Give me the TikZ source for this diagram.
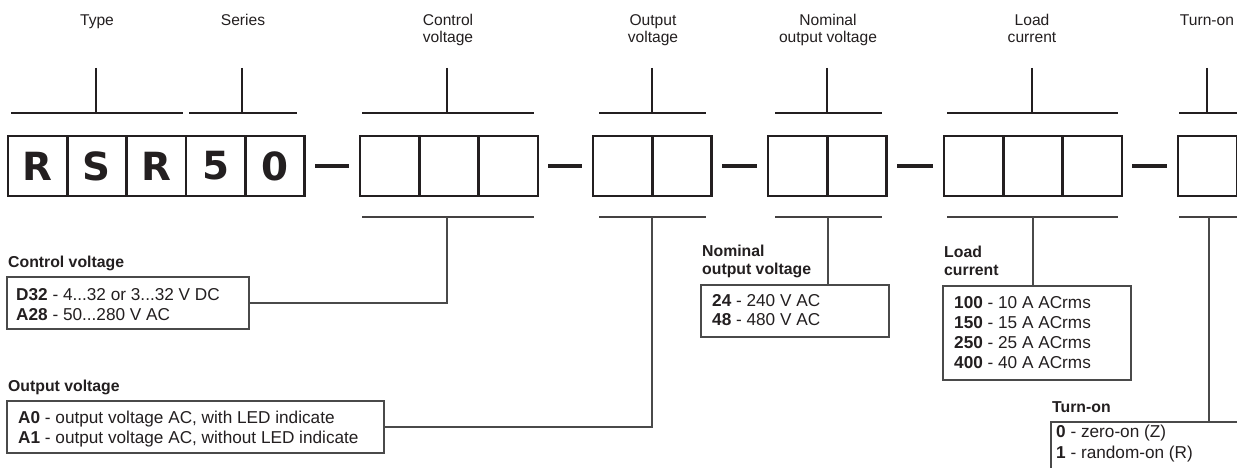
\documentclass[tikz,border=0pt]{standalone}
\usepackage{fontspec}
\setmainfont{Liberation Sans}
\newfontfamily\codefont{DejaVu Sans}
\definecolor{ink}{HTML}{231F20}
\definecolor{greyline}{HTML}{4A4A4A}
\newcommand{\mlines}[2][l]{\begin{tabular}[t]{@{}#1@{}}#2\end{tabular}}
\begin{document}
\begin{tikzpicture}[x=1pt,y=-1pt,
  cell/.style={draw=ink, line width=2.8pt, minimum width=59.3pt, minimum height=60pt,
    inner sep=0pt, outer sep=0pt, anchor=north west, text=ink,
    font=\codefont\bfseries\fontsize{38.8}{40}\selectfont},
  dashline/.style={draw=ink, line width=3.3pt},
  bracket/.style={draw=ink, line width=1.6pt},
  lowbracket/.style={draw=ink!85, line width=1.5pt},
  conn/.style={draw=greyline, line width=1.1pt},
  infobox/.style={draw=greyline, line width=1.1pt, inner sep=0pt, outer sep=0pt},
  toplabel/.style={anchor=base, inner sep=0pt, text=ink, font=\fontsize{15.6}{17}\selectfont},
  headlabel/.style={anchor=base west, inner sep=0pt, text=ink, font=\bfseries\fontsize{15.8}{18}\selectfont},
  boxtext/.style={anchor=base west, inner sep=0pt, text=ink, font=\fontsize{17.2}{20}\selectfont}
]
\useasboundingbox (0,0) rectangle (1237,468);
\fill[white] (0,0) rectangle (1237,468);

% code cells
\foreach \l [count=\i from 0] in {R,S,R,5,0}
  \node[cell] (t\i) at ({8+59.3*\i},136) {\l};
\foreach \i in {0,1,2} \node[cell] (c\i) at ({360+59.3*\i},136) {};
\foreach \i in {0,1} \node[cell] (o\i) at ({593+59.3*\i},136) {};
\foreach \i in {0,1} \node[cell] (n\i) at ({768+59.3*\i},136) {};
\foreach \i in {0,1,2} \node[cell] (l\i) at ({944+59.3*\i},136) {};
\node[cell] (z0) at (1178,136) {};

% dashes between groups
\draw[dashline] ([xshift=10.5pt]t4.east) -- ([xshift=-11.5pt]c0.west);
\draw[dashline] ([xshift=10.5pt]c2.east) -- ([xshift=-11.5pt]o0.west);
\draw[dashline] ([xshift=10.5pt]o1.east) -- ([xshift=-11.5pt]n0.west);
\draw[dashline] ([xshift=10.5pt]n1.east) -- ([xshift=-11.5pt]l0.west);
\draw[dashline] ([xshift=10.5pt]l2.east) -- ([xshift=-11.5pt]z0.west);

% top labels
\node[toplabel] (lt) at (97,26) {Type};
\node[toplabel] (ls) at (243,26) {Series};
\node[toplabel] (lc) at (448,26) {\mlines[c]{Control\\voltage}};
\node[toplabel] (lo) at (653,26) {\mlines[c]{Output\\voltage}};
\node[toplabel] (ln) at (828,26) {\mlines[c]{Nominal\\output voltage}};
\node[toplabel] (ll) at (1032,26) {\mlines[c]{Load\\current}};
\node[toplabel] (lz) at (1207,26) {Turn-on};

% top brackets
\foreach \a/\b/\v in {11/183/96, 189/297/242, 362/534/447, 599/706/652, 775/882/827, 947/1118/1032, 1179/1250/1207}{
  \draw[bracket] (\a,113) -- (\b,113);
  \draw[bracket] (\v,68) -- (\v,113);
}
% bottom brackets
\foreach \a/\b in {362/534, 599/706, 775/882, 947/1118, 1179/1250}
  \draw[lowbracket] (\a,217) -- (\b,217);
\coordinate (cvB) at (447,217);
\coordinate (ovB) at (652,217);
\coordinate (nvB) at (828,217);
\coordinate (lcB) at (1033,217);
\coordinate (toB) at (1209,217);

% info boxes
\node[infobox, minimum width=242pt, minimum height=52pt] (cvbox) at (128,303) {};
\node[infobox, minimum width=377pt, minimum height=52pt] (ovbox) at (195.5,427) {};
\node[infobox, minimum width=188pt, minimum height=52pt] (nvbox) at (795,311) {};
\node[infobox, minimum width=188pt, minimum height=94pt] (lcbox) at (1037,333) {};
\node[infobox, minimum width=209pt, minimum height=58pt] (tobox) at (1155.5,451) {};

% connectors
\draw[conn] (cvB) |- (cvbox.east);
\draw[conn] (ovB) |- (ovbox.east);
\draw[conn] (nvB) -- (nvB |- nvbox.north);
\draw[conn] (lcB) -- (lcB |- lcbox.north);
\draw[conn] (toB) -- (toB |- tobox.north);

% headings
\node[headlabel] (hcv) at (8,267) {Control voltage};
\node[headlabel] (hov) at (8,391) {Output voltage};
\node[headlabel] (hnv) at (702,256) {\mlines{Nominal\\output voltage}};
\node[headlabel] (hlc) at (944,257) {\mlines{Load\\current}};
\node[headlabel] (hto) at (1052,412) {Turn-on};

% box texts
\node[boxtext] (tcv) at (16,300) {\mlines{\textbf{D32} - 4...32 or 3...32 V DC\\\textbf{A28} - 50...280 V AC}};
\node[boxtext] (tov) at (18,423) {\mlines{\textbf{A0} - output voltage AC, with LED indicate\\\textbf{A1} - output voltage AC, without LED indicate}};
\node[boxtext, font=\fontsize{17.2}{19.5}\selectfont] (tnv) at (712,306) {\mlines{\textbf{24} - 240 V AC\\\textbf{48} - 480 V AC}};
\node[boxtext] (tlc) at (954,308) {\mlines{\textbf{100} - 10 A ACrms\\\textbf{150} - 15 A ACrms\\\textbf{250} - 25 A ACrms\\\textbf{400} - 40 A ACrms}};
\node[boxtext, font=\fontsize{17.2}{21}\selectfont] (tto) at (1056,437) {\mlines{\textbf{0} - zero-on (Z)\\\textbf{1} - random-on (R)}};
\end{tikzpicture}
\end{document}
